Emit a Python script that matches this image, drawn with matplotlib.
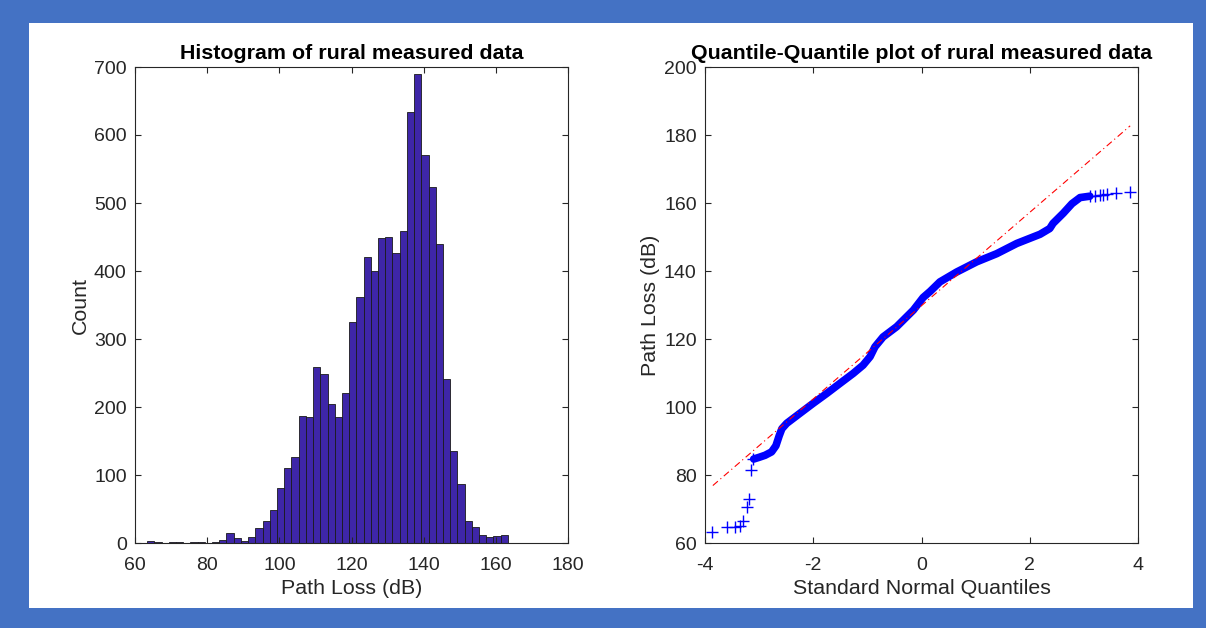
import numpy as np
import matplotlib
matplotlib.use("Agg")
import matplotlib.pyplot as plt
from matplotlib.patches import Rectangle

plt.rcParams["font.family"] = ["Liberation Sans", "DejaVu Sans"]
plt.rcParams["axes.unicode_minus"] = False

# ---- histogram of rural measured path loss (bin counts) ----
bin_start = 63.35
bin_width = 2.0
hist_counts = [3, 2, 0, 1, 1, 0, 1, 1, 0, 1,
               4, 14, 8, 3, 9, 22, 32, 48, 81, 111,
               127, 187, 185, 259, 249, 204, 186, 220, 325, 362,
               421, 400, 448, 450, 427, 459, 634, 689, 571, 524,
               439, 241, 135, 87, 33, 23, 12, 9, 11, 12]

# ---- Q-Q plot: sparse tail markers and the dense middle of the curve ----
qq_low_x = [-3.865, -3.588, -3.446, -3.354, -3.29, -3.219, -3.182, -3.150, -3.12]
qq_low_y = [63.1, 64.8, 64.8, 65.1, 66.6, 70.5, 73.0, 81.5, 84.6]
qq_high_x = [3.11, 3.20, 3.295, 3.36, 3.43, 3.585, 3.849]
qq_high_y = [162.0, 162.2, 162.3, 162.5, 162.6, 162.9, 163.3]
qq_mid_x = [-3.10, -3.00, -2.89, -2.77, -2.69, -2.63, -2.58, -2.49, -2.25, -2.00,
            -1.75, -1.51, -1.26, -1.08, -0.95, -0.86, -0.71, -0.46, -0.15, 0.03,
            0.16, 0.34, 0.65, 1.02, 1.39, 1.76, 2.19, 2.37, 2.43, 2.62,
            2.78, 2.93, 3.11]
qq_mid_y = [84.7, 85.2, 85.8, 86.8, 88.6, 91.5, 93.6, 95.2, 98.1, 101.1,
            104.0, 106.9, 109.9, 112.3, 114.8, 117.7, 120.6, 123.6, 128.5, 132.2,
            134.0, 136.8, 139.7, 142.7, 145.1, 148.1, 150.8, 152.5, 154.0, 157.0,
            159.8, 161.6, 162.0]
ref_line_x = [-3.855, 3.855]
ref_line_y = [76.9, 182.7]

INK = "#262626"

fig = plt.figure(figsize=(12.06, 6.28), dpi=100)
fig.patch.set_facecolor("#4472C4")
fig.patches.append(Rectangle((29 / 1206, 20 / 628), 1164 / 1206, 585 / 628,
                             transform=fig.transFigure, facecolor="white",
                             edgecolor="none", zorder=-5))

def style(ax):
    ax.tick_params(direction="in", length=4, width=0.8, colors=INK, labelsize=14,
                   top=True, right=True, pad=6)
    ax.tick_params(axis="x", pad=10)
    for s in ax.spines.values():
        s.set_color(INK); s.set_linewidth(0.8)

# left: histogram
ax1 = fig.add_axes([135 / 1206, 85 / 628, 433 / 1206, 476 / 628])
edges = bin_start + bin_width * np.arange(len(hist_counts) + 1)
ax1.bar(edges[:-1], hist_counts, width=bin_width, align="edge",
        color="#3E26A8", edgecolor="#1a1a1a", linewidth=0.6)
ax1.set_xlim(60, 180); ax1.set_ylim(0, 700)
ax1.set_xticks(range(60, 181, 20)); ax1.set_yticks(range(0, 701, 100))
ax1.set_xlabel("Path Loss (dB)", fontsize=15.4, color=INK, labelpad=4)
ax1.set_ylabel("Count", fontsize=15.4, color=INK, labelpad=3)
ax1.set_title("Histogram of rural measured data", fontsize=15.4, fontweight="bold", pad=6)
style(ax1)

# right: quantile-quantile
ax2 = fig.add_axes([705 / 1206, 85 / 628, 433 / 1206, 476 / 628])
ax2.plot(ref_line_x, ref_line_y, color="red", lw=0.8, ls=(0, (6, 3, 1, 3)), zorder=3)
ax2.plot(qq_mid_x, qq_mid_y, color="blue", lw=5.5, solid_capstyle="round", zorder=2)
ax2.plot(qq_low_x + qq_high_x, qq_low_y + qq_high_y, ls="none", marker="+",
         ms=8, mew=1.0, color="blue", zorder=2)
ax2.set_xlim(-4, 4); ax2.set_ylim(60, 200)
ax2.set_xticks(range(-4, 5, 2)); ax2.set_yticks(range(60, 201, 20))
ax2.set_xlabel("Standard Normal Quantiles", fontsize=15.4, color=INK, labelpad=4)
ax2.set_ylabel("Path Loss (dB)", fontsize=15.4, color=INK, labelpad=3)
ax2.set_title("Quantile-Quantile plot of rural measured data", fontsize=15.4,
              fontweight="bold", pad=6)
style(ax2)

fig.savefig("out.png", dpi=100, facecolor=fig.get_facecolor())
